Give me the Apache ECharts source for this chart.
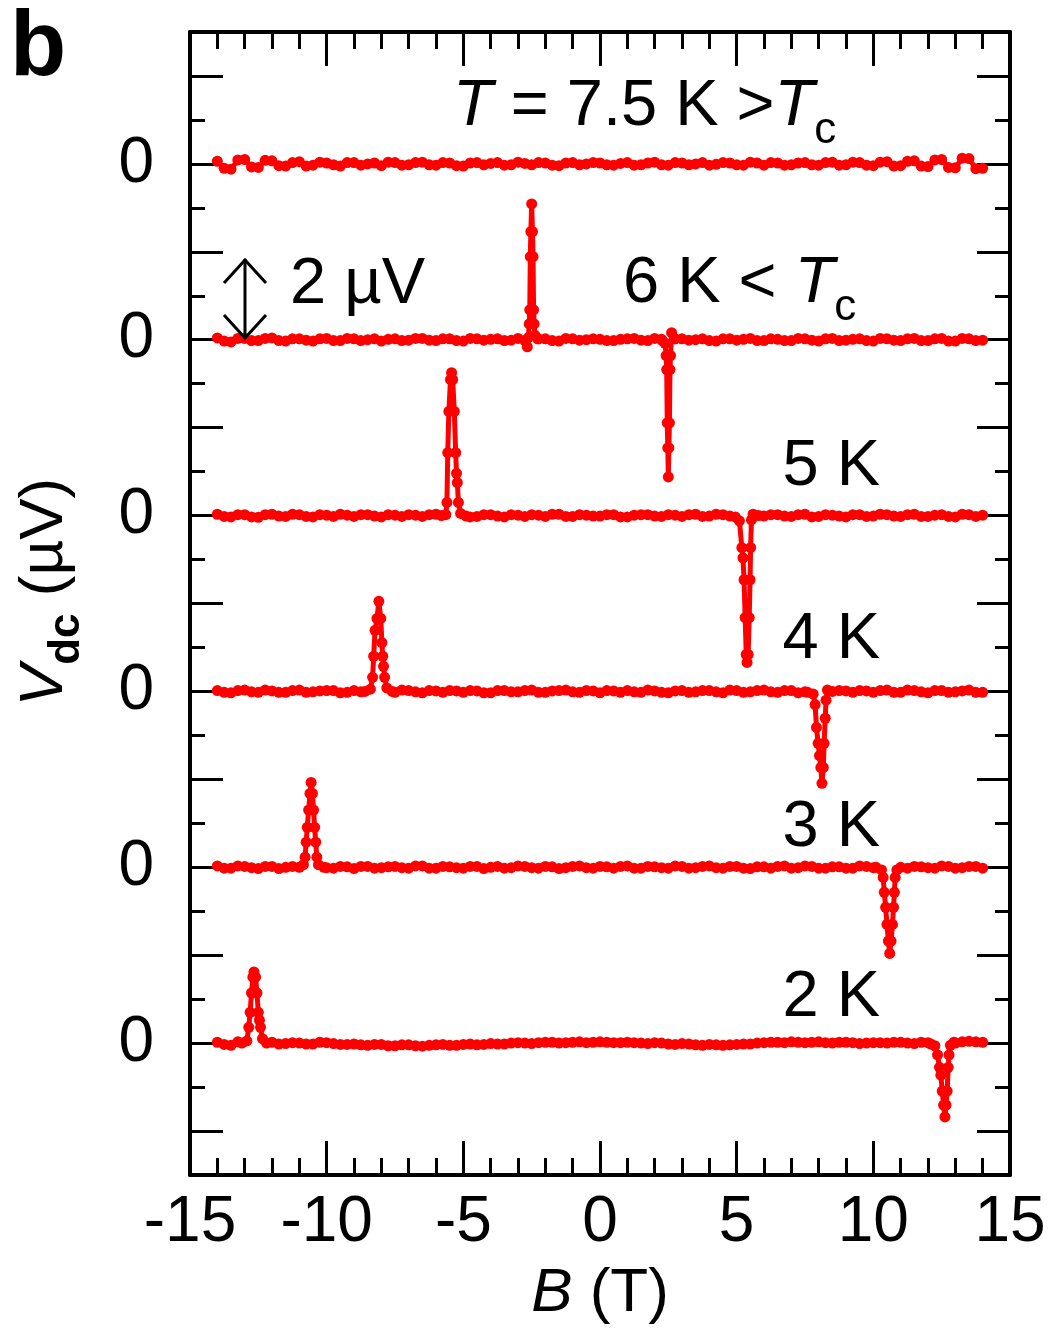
<!DOCTYPE html>
<html>
<head>
<meta charset="utf-8">
<script src="https://cdn.jsdelivr.net/npm/echarts/dist/echarts.min.js"></script>
<style>
html,body{margin:0;padding:0;background:#fff;}
#chart{width:1050px;height:1335px;}
</style>
</head>
<body>
<div id="chart"></div>
<script>
// ---------------- DATA ----------------
// Magnetic field sampling of the baseline (T): whole/half tesla values ...
const bGrid = [
  -14,-13.5,-13,-12.5,-12,-11.5,-11,-10.5,-10,-9.5,
  -9,-8.5,-8,-7.5,-7,-6.5,-6,-5.5,-5,-4.5,
  -4,-3.5,-3,-2.5,-2,-1.5,-1,-0.5,0,0.5,
  1,1.5,2,2.5,3,3.5,4,4.5,5,5.5,
  6,6.5,7,7.5,8,8.5,9,9.5,10,10.5,
  11,11.5,12,12.5,13,13.5,14
];
// ... and the readings in between
const bGridMid = [
  -13.75,-13.25,-12.75,-12.25,-11.75,-11.25,-10.75,-10.25,-9.75,-9.25,
  -8.75,-8.25,-7.75,-7.25,-6.75,-6.25,-5.75,-5.25,-4.75,-4.25,
  -3.75,-3.25,-2.75,-2.25,-1.75,-1.25,-0.75,-0.25,0.25,0.75,
  1.25,1.75,2.25,2.75,3.25,3.75,4.25,4.75,5.25,5.75,
  6.25,6.75,7.25,7.75,8.25,8.75,9.25,9.75,10.25,10.75,
  11.25,11.75,12.25,12.75,13.25,13.75
];

// Baseline V_dc (µV) for each temperature, on bGrid
const base75 = [
  0.06,-0.12,0.10,-0.08,0.07,-0.05,0.05,-0.03,0.02,-0.05,
  0.03,0.00,-0.04,0.03,-0.02,0.04,-0.03,0.02,-0.05,0.03,
  0.01,-0.03,0.04,-0.02,0.02,-0.04,0.03,0.00,0.02,-0.03,
  0.03,-0.02,0.04,-0.03,0.02,0.00,-0.03,0.03,-0.02,0.04,
  -0.03,0.02,-0.02,0.03,-0.03,0.04,-0.02,0.03,-0.04,0.05,
  -0.04,0.07,-0.06,0.10,-0.09,0.12,-0.10
];
const base6 = [
  0.04,-0.05,0.03,-0.02,0.04,-0.03,0.02,-0.03,0.03,-0.02,
  0.02,0.00,-0.03,0.02,-0.01,0.03,-0.02,0.02,-0.03,0.02,
  0.01,-0.02,0.03,-0.02,0.02,-0.03,0.02,0.00,0.01,-0.02,
  0.02,-0.01,0.03,-0.02,0.02,0.00,-0.02,0.02,-0.01,0.03,
  -0.02,0.01,-0.02,0.02,-0.03,0.03,-0.01,0.02,-0.03,0.02,
  -0.02,0.03,-0.02,0.03,-0.03,0.02,-0.01
];
const base5 = [
  0.03,-0.03,0.02,-0.04,0.03,-0.02,0.02,-0.03,0.01,0.03,
  -0.02,0.02,-0.03,0.01,0.02,-0.02,0.03,-0.01,0.02,-0.02,
  0.02,-0.03,0.01,0.02,-0.02,0.03,-0.02,0.01,-0.01,0.02,
  -0.03,0.02,-0.01,0.02,-0.02,0.03,-0.01,0.02,-0.03,0.02,
  -0.01,0.02,-0.02,0.03,-0.02,0.01,-0.03,0.02,-0.01,0.02,
  -0.02,0.03,-0.02,0.02,-0.03,0.02,0.01
];
const base4 = [
  0.02,-0.03,0.03,-0.02,0.01,-0.02,0.03,-0.01,0.02,-0.03,
  0.02,-0.01,0.03,-0.02,0.02,-0.03,0.01,0.02,-0.02,0.01,
  -0.03,0.02,-0.01,0.03,-0.02,0.02,-0.01,0.02,-0.03,0.01,
  0.02,-0.02,0.01,-0.03,0.02,-0.01,0.02,-0.03,0.02,-0.01,
  0.03,-0.02,0.02,-0.01,0.02,-0.03,0.01,0.02,-0.02,0.03,
  -0.02,0.02,-0.03,0.02,-0.01,0.03,-0.02
];
const base3 = [
  0.03,-0.02,0.02,-0.03,0.02,0.00,-0.02,0.03,-0.01,0.02,
  -0.03,0.02,-0.01,0.02,-0.02,0.03,-0.02,0.01,-0.02,0.02,
  0.00,-0.02,0.03,-0.01,0.02,-0.03,0.02,-0.01,0.02,-0.02,
  0.03,-0.02,0.01,-0.02,0.02,-0.01,0.03,-0.02,0.02,-0.03,
  0.01,0.02,-0.02,0.03,-0.02,0.01,-0.02,0.03,-0.01,0.02,
  -0.03,0.02,-0.01,0.03,-0.02,0.02,-0.02
];
const base2 = [
  0.02,-0.05,0.03,-0.02,0.02,-0.01,0.00,-0.02,0.01,-0.03,
  -0.02,-0.05,-0.03,-0.06,-0.04,-0.07,-0.04,-0.05,-0.03,-0.04,
  -0.01,-0.02,0.01,-0.01,0.02,0.00,0.02,0.01,0.03,0.01,
  0.02,0.00,0.01,-0.02,-0.01,-0.04,-0.03,-0.05,-0.03,-0.02,
  0.01,0.02,0.03,0.01,0.03,0.00,0.02,-0.01,0.01,0.00,
  0.02,-0.01,0.01,0.03,0.00,0.04,0.02
];

// Baseline V_dc (µV) on bGridMid
const mid75 = [
  -0.10,0.09,-0.07,0.08,-0.04,0.03,-0.05,0.04,-0.02,0.03,
  -0.03,0.02,0.04,-0.03,0.03,-0.02,0.03,-0.04,0.02,-0.02,
  0.03,-0.02,0.01,0.03,-0.03,0.02,-0.02,0.03,-0.02,0.01,
  -0.03,0.02,-0.02,0.03,-0.02,0.03,-0.01,0.02,-0.03,0.02,
  0.03,-0.03,0.02,-0.02,0.03,-0.03,0.04,-0.03,0.04,-0.05,
  0.06,-0.05,0.09,-0.08,0.13,-0.11
];
const mid6 = [
  -0.03,0.03,-0.02,0.03,-0.02,0.02,-0.01,0.02,-0.02,0.03,
  -0.02,0.02,0.01,-0.02,0.03,-0.01,0.02,-0.02,0.03,-0.01,
  0.02,-0.01,0.00,0.02,-0.02,0.03,-0.01,0.02,-0.02,0.01,
  0.03,-0.02,0.01,0.02,-0.01,0.02,-0.03,0.02,0.01,-0.02,
  0.02,-0.02,0.03,-0.01,0.02,-0.02,0.01,-0.02,0.03,-0.01,
  0.02,-0.02,0.02,-0.03,0.03,-0.02
];
const mid5 = [
  -0.02,0.02,-0.03,0.02,-0.01,0.03,-0.02,0.02,-0.02,0.01,
  0.02,-0.01,0.02,-0.02,0.01,0.02,-0.02,0.00,-0.03,0.02,
  -0.01,0.02,-0.02,0.01,0.03,-0.02,0.02,-0.01,0.02,-0.03,
  0.01,0.02,-0.02,0.01,0.02,-0.02,0.03,-0.01,0.02,-0.02,
  0.02,-0.01,0.02,-0.03,0.02,-0.01,0.02,-0.02,0.03,-0.01,
  0.02,-0.02,0.01,-0.02,0.03,-0.02
];
const mid4 = [
  -0.02,0.02,-0.01,0.03,-0.02,0.02,-0.02,0.01,0.02,-0.02,
  -0.01,0.02,-0.02,0.03,-0.01,0.02,-0.02,0.01,0.02,-0.03,
  0.02,-0.01,0.02,-0.02,0.01,0.03,-0.02,0.01,0.02,-0.02,
  -0.01,0.03,-0.02,0.01,-0.02,0.02,-0.01,0.03,-0.02,0.02,
  -0.01,0.02,-0.03,0.02,-0.01,0.02,-0.02,0.01,0.02,-0.02,
  0.03,-0.01,0.02,-0.02,0.01,-0.02
];
const mid3 = [
  -0.02,0.03,-0.01,0.02,-0.03,0.02,-0.01,0.02,-0.02,0.01,
  0.02,-0.02,0.01,-0.01,0.03,-0.02,0.02,-0.01,0.02,-0.03,
  0.02,-0.01,0.02,-0.02,0.01,-0.01,0.03,-0.02,0.01,0.02,
  -0.02,0.02,-0.01,0.03,-0.02,0.02,-0.01,0.02,-0.02,0.01,
  -0.02,0.03,-0.01,0.02,-0.02,0.01,-0.02,0.02,-0.01,0.03,
  -0.02,0.01,-0.02,0.02,-0.01,0.02
];
const mid2 = [
  -0.03,0.03,-0.01,0.02,-0.02,0.01,-0.02,0.02,-0.01,-0.03,
  -0.04,-0.03,-0.06,-0.04,-0.06,-0.05,-0.03,-0.05,-0.02,-0.03,
  -0.02,0.00,0.00,0.01,0.02,0.01,0.03,0.02,0.02,0.01,
  0.01,-0.01,0.00,-0.03,-0.02,-0.05,-0.04,-0.04,-0.02,0.00,
  0.02,0.01,0.02,0.02,0.01,0.02,0.01,0.00,0.01,0.02,
  0.00,0.02,0.01,0.02,0.03,0.03
];

// Switching events [B (T), V (µV)]
const peak6 = [[-2.75,-0.02],[-2.66,-0.16],[-2.62,0.05],[-2.59,0.36],[-2.57,0.68],[-2.55,1.89],[-2.53,2.46],[-2.50,3.09],[-2.47,2.46],[-2.45,1.89],[-2.43,0.68],[-2.41,0.36],[-2.38,0.10],[-2.28,0.02]];
const dip6  = [[2.28,-0.02],[2.38,-0.08],[2.42,-0.36],[2.44,-0.68],[2.46,-1.89],[2.48,-2.46],[2.50,-3.12],[2.52,-2.46],[2.54,-1.89],[2.56,-0.68],[2.58,-0.36],[2.62,0.16],[2.72,0.02]];
const peak5 = [[-5.80,0.00],[-5.64,0.02],[-5.60,0.30],[-5.57,1.43],[-5.53,2.37],[-5.47,3.09],[-5.43,3.25],[-5.39,3.09],[-5.33,2.37],[-5.28,1.43],[-5.25,0.96],[-5.22,0.75],[-5.18,0.30],[-5.10,0.05],[-4.90,-0.01]];
const dip5  = [[4.95,-0.03],[5.10,-0.12],[5.19,-0.73],[5.23,-0.96],[5.27,-1.46],[5.31,-2.32],[5.35,-3.16],[5.38,-3.34],[5.42,-3.16],[5.46,-2.32],[5.49,-1.46],[5.51,-0.73],[5.54,-0.10],[5.60,0.03],[5.80,0.00]];
const peak4 = [[-8.60,0.00],[-8.40,0.05],[-8.32,0.32],[-8.28,0.80],[-8.23,1.39],[-8.16,1.66],[-8.09,2.05],[-8.02,1.66],[-7.98,1.11],[-7.95,0.80],[-7.92,0.57],[-7.88,0.32],[-7.80,0.08],[-7.60,0.00]];
const dip4  = [[7.60,-0.02],[7.80,-0.06],[7.87,-0.30],[7.92,-0.82],[7.98,-1.18],[8.03,-1.46],[8.08,-1.73],[8.12,-2.09],[8.17,-1.73],[8.20,-1.18],[8.24,-0.61],[8.27,-0.20],[8.32,0.03],[8.50,0.00]];
const peak3 = [[-11.00,0.00],[-10.85,0.06],[-10.79,0.23],[-10.75,0.57],[-10.71,0.91],[-10.66,1.30],[-10.61,1.68],[-10.57,1.93],[-10.52,1.68],[-10.48,1.30],[-10.44,0.91],[-10.40,0.57],[-10.36,0.23],[-10.30,0.06],[-10.10,0.00]];
const dip3  = [[10.10,0.00],[10.30,-0.06],[10.36,-0.23],[10.40,-0.57],[10.45,-0.91],[10.50,-1.30],[10.55,-1.68],[10.60,-1.96],[10.65,-1.68],[10.70,-1.30],[10.74,-0.91],[10.77,-0.57],[10.80,-0.23],[10.86,-0.06],[11.00,0.00]];
const peak2 = [[-13.10,0.00],[-12.92,0.05],[-12.85,0.36],[-12.80,0.70],[-12.75,1.14],[-12.70,1.50],[-12.66,1.62],[-12.60,1.50],[-12.55,1.14],[-12.50,0.70],[-12.46,0.52],[-12.42,0.36],[-12.35,0.10],[-12.20,0.00]];
const dip2  = [[12.10,-0.02],[12.25,-0.06],[12.35,-0.27],[12.42,-0.55],[12.47,-0.73],[12.52,-1.09],[12.57,-1.41],[12.62,-1.68],[12.66,-1.41],[12.70,-1.09],[12.74,-0.55],[12.77,-0.27],[12.82,-0.05],[12.95,0.02]];

// Curves and their vertical offsets (µV)
const traceNames   = ['7.5 K', '6 K', '5 K', '4 K', '3 K', '2 K'];
const traceOffsets = [20, 16, 12, 8, 4, 0];
const traceBases   = [base75, base6, base5, base4, base3, base2];
const traceMids    = [mid75, mid6, mid5, mid4, mid3, mid2];
const traceEvents  = [[], [peak6, dip6], [peak5, dip5], [peak4, dip4], [peak3, dip3], [peak2, dip2]];

// Axis ticks
const xTicks = [-15, -10, -5, 0, 5, 10, 15];

// ---------------- BUILD ----------------
function buildTrace(base, mid, events, offset) {
  const ranges = events.map(e => [e[0][0], e[e.length - 1][0]]);
  const inEvent = b => ranges.some(r => b >= r[0] && b <= r[1]);
  const pts = [];
  bGrid.forEach((b, i) => { if (!inEvent(b)) pts.push([b, base[i]]); });
  bGridMid.forEach((b, i) => { if (!inEvent(b)) pts.push([b, mid[i]]); });
  events.forEach(e => e.forEach(p => pts.push([p[0], p[1]])));
  pts.sort((a, b) => a[0] - b[0]);
  return pts.map(p => [p[0], +(p[1] + offset).toFixed(3)]);
}

const FONT = "'Liberation Sans', Arial, sans-serif";
const RED = '#ff0000';
const PLOT = {left: 190, right: 40, top: 32, bottom: 160};
const unitPx = (1175 - 32) / 26; // px per µV

const series = traceNames.map((n, k) => ({
  name: n,
  type: 'line',
  xAxisIndex: 0,
  yAxisIndex: 0,
  data: buildTrace(traceBases[k], traceMids[k], traceEvents[k], traceOffsets[k]),
  symbol: 'circle',
  symbolSize: 11,
  showSymbol: true,
  showAllSymbol: true,
  lineStyle: {color: RED, width: 5},
  itemStyle: {color: RED},
  animation: false,
  z: 3
}));

const richAnno = {
  n: {fontFamily: FONT, fontSize: 65, lineHeight: 92, color: '#000'},
  i: {fontFamily: FONT, fontSize: 65, lineHeight: 92, fontStyle: 'italic', color: '#000'},
  s: {fontFamily: FONT, fontSize: 44, lineHeight: 44, verticalAlign: 'bottom', color: '#000'}
};

function anno(text, x, y, align) {
  return {
    type: 'text', x: x, y: y, z: 10,
    style: {text: text, rich: richAnno, align: align || 'left', verticalAlign: 'middle',
            fontFamily: FONT, fontSize: 65, fill: '#000'}
  };
}

const tickLine = {show: true, inside: true, lineStyle: {color: '#000', width: 3}};

const option = {
  backgroundColor: '#fff',
  animation: false,
  grid: [
    {left: PLOT.left, right: PLOT.right, top: PLOT.top, bottom: PLOT.bottom, containLabel: false},
    {left: PLOT.left, right: PLOT.right, top: PLOT.top + unitPx, bottom: PLOT.bottom + unitPx, containLabel: false}
  ],
  xAxis: [
    {
      gridIndex: 0, type: 'value', position: 'bottom', min: xTicks[0], max: xTicks[xTicks.length - 1], interval: 5,
      axisLine: {show: true, onZero: false, lineStyle: {color: '#000', width: 4}},
      axisTick: Object.assign({length: 34}, tickLine),
      minorTick: {show: true, splitNumber: 5, length: 17, lineStyle: {color: '#000', width: 3}},
      splitLine: {show: false},
      axisLabel: {show: true, fontFamily: FONT, fontSize: 64, color: '#000', margin: 16},
      name: '{i|B}{n| (T)}',
      nameLocation: 'middle',
      nameGap: 88,
      nameTextStyle: {
        fontFamily: FONT, fontSize: 62, color: '#000',
        rich: {
          i: {fontFamily: FONT, fontSize: 62, fontStyle: 'italic', color: '#000'},
          n: {fontFamily: FONT, fontSize: 62, color: '#000'}
        }
      }
    },
    {
      gridIndex: 0, type: 'value', position: 'top', min: xTicks[0], max: xTicks[xTicks.length - 1], interval: 5,
      axisLine: {show: true, onZero: false, lineStyle: {color: '#000', width: 4}},
      axisTick: Object.assign({length: 34}, tickLine),
      minorTick: {show: true, splitNumber: 5, length: 17, lineStyle: {color: '#000', width: 3}},
      splitLine: {show: false},
      axisLabel: {show: false}
    },
    {
      gridIndex: 1, type: 'value', min: -15, max: 15, show: false
    }
  ],
  yAxis: [
    {
      gridIndex: 0, type: 'value', position: 'left', min: -3, max: 23,
      axisLine: {show: true, onZero: false, lineStyle: {color: '#000', width: 4}},
      axisTick: {show: false}, splitLine: {show: false}, axisLabel: {show: false}
    },
    {
      gridIndex: 0, type: 'value', position: 'right', min: -3, max: 23,
      axisLine: {show: true, onZero: false, lineStyle: {color: '#000', width: 4}},
      axisTick: {show: false}, splitLine: {show: false}, axisLabel: {show: false}
    },
    {
      gridIndex: 1, type: 'value', position: 'left', min: -2, max: 22, interval: 2,
      axisLine: {show: false, onZero: false},
      axisTick: Object.assign({length: 33}, tickLine),
      minorTick: {show: true, splitNumber: 2, length: 15, lineStyle: {color: '#000', width: 3}},
      splitLine: {show: false},
      axisLabel: {
        show: true, fontFamily: FONT, fontSize: 64, color: '#000', margin: 36,
        formatter: v => (traceOffsets.indexOf(v) >= 0 ? '0' : '')
      }
    },
    {
      gridIndex: 1, type: 'value', position: 'right', min: -2, max: 22, interval: 2,
      axisLine: {show: false, onZero: false},
      axisTick: Object.assign({length: 33}, tickLine),
      minorTick: {show: true, splitNumber: 2, length: 15, lineStyle: {color: '#000', width: 3}},
      splitLine: {show: false},
      axisLabel: {show: false}
    }
  ],
  series: series,
  graphic: [
    // panel letter
    {type: 'text', x: 10, y: 50, z: 10,
     style: {text: 'b', fontFamily: FONT, fontSize: 92, fontWeight: 'bold', fill: '#000', align: 'left', verticalAlign: 'middle'}},
    // y axis title
    {type: 'text', x: 45, y: 592, rotation: Math.PI / 2, z: 10,
     style: {
       text: '{i|V}{s|dc}{n| (µV)}', align: 'center', verticalAlign: 'middle',
       rich: {
         n: {fontFamily: FONT, fontSize: 62, lineHeight: 88, color: '#000'},
         i: {fontFamily: FONT, fontSize: 62, lineHeight: 88, fontStyle: 'italic', color: '#000'},
         s: {fontFamily: FONT, fontSize: 44, lineHeight: 44, verticalAlign: 'bottom', fontWeight: 'bold', color: '#000'}
       }
     }},
    // temperature labels
    anno('{i|T}{n| = 7.5 K >}{i|T}{s|c}', 453, 107, 'left'),
    anno('{n|6 K < }{i|T}{s|c}', 623, 284, 'left'),
    anno('{n|5 K}', 880, 467, 'right'),
    anno('{n|4 K}', 880, 640, 'right'),
    anno('{n|3 K}', 880, 828, 'right'),
    anno('{n|2 K}', 880, 998, 'right'),
    // 2 µV scale bar
    anno('{n|2 µV}', 290, 285, 'left'),
    {type: 'polyline', z: 10, shape: {points: [[245, 259], [245, 339]]}, style: {stroke: '#000', lineWidth: 3, fill: null}},
    {type: 'polyline', z: 10, shape: {points: [[224, 283], [245, 260], [266, 283]]}, style: {stroke: '#000', lineWidth: 3, fill: null}},
    {type: 'polyline', z: 10, shape: {points: [[224, 315], [245, 338], [266, 315]]}, style: {stroke: '#000', lineWidth: 3, fill: null}}
  ]
};

const chart = echarts.init(document.getElementById('chart'), null, {renderer: 'canvas'});
chart.setOption(option);
</script>
</body>
</html>
